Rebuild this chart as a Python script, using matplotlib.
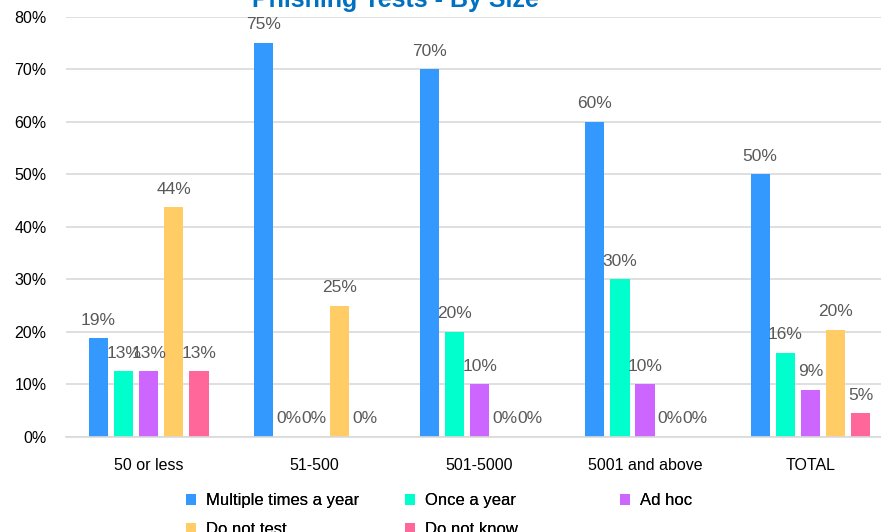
import matplotlib.pyplot as plt
import numpy as np

plt.rcParams['font.family'] = ['Liberation Sans', 'DejaVu Sans']

# data (fractions)
categories = ['50 or less', '51-500', '501-5000', '5001 and above', 'TOTAL']
series_names = ['Multiple times a year', 'Once a year', 'Ad hoc', 'Do not test', 'Do not know']
multiple = [0.1875, 0.75, 0.70, 0.60, 0.50]
once = [0.125, 0.0, 0.20, 0.30, 0.16]
adhoc = [0.125, 0.0, 0.10, 0.10, 0.09]
no_test = [0.4375, 0.25, 0.0, 0.0, 0.204]
dont_know = [0.125, 0.0, 0.0, 0.0, 0.045]
colors = ['#3399FF', '#00FFCC', '#CC66FF', '#FFCC66', '#FF6699']

all_series = [multiple, once, adhoc, no_test, dont_know]

fig = plt.figure(figsize=(8.81, 5.32), dpi=100)
ax = fig.add_axes([0.0749, 0.1786, 0.939, 0.790])

x = np.arange(len(categories))
step = 0.152
width = 0.116
bars = []
for i, (vals, name, col) in enumerate(zip(all_series, series_names, colors)):
    pos = x + (i - 2) * step
    b = ax.bar(pos, vals, width, color=col, label=name, zorder=2)
    bars.append(b)
    for px, v in zip(pos, vals):
        # round half up like excel does
        ax.text(px, v + 0.02, '{:d}%'.format(int(v * 100 + 0.5)), ha='center', va='bottom',
                fontsize=12.5, color='#595959', zorder=3)

ax.set_ylim(0, 0.8)
ax.set_xlim(-0.5, len(categories) - 0.5)
ax.set_yticks(np.arange(0, 0.81, 0.1))
ax.set_yticklabels(['{:.0f}%'.format(t * 100) for t in np.arange(0, 0.81, 0.1)])
ax.set_xticks(x)
ax.set_xticklabels(categories)
ax.tick_params(axis='both', length=0, labelsize=11.5, colors='#000000')
ax.tick_params(axis='x', pad=15)
ax.tick_params(axis='y', pad=14)
ax.grid(axis='y', color='#D9D9D9', linewidth=1.2, zorder=0)
for s in ['top', 'right', 'left']:
    ax.spines[s].set_visible(False)
ax.spines['bottom'].set_color('#D9D9D9')
ax.spines['bottom'].set_linewidth(1.2)

fig.text(0.449, 1.0, 'Phishing Tests - By Size', ha='center', va='center',
         fontsize=18, fontweight='bold', color='#0070C0')

# legend: three equal columns, filled row by row like excel
col_x = [178, 397, 612]
for c in range(3):
    idx = [k for k in range(len(series_names)) if k % 3 == c]
    leg = fig.legend([bars[k] for k in idx], [series_names[k] for k in idx],
                     loc='upper left', bbox_to_anchor=(col_x[c] / 881, 1 - 485 / 532),
                     frameon=False, fontsize=12, handlelength=0.6, handleheight=0.6,
                     labelspacing=0.8, handletextpad=0.6, borderpad=0)
    fig.add_artist(leg)

fig.savefig('out.png', dpi=100)
